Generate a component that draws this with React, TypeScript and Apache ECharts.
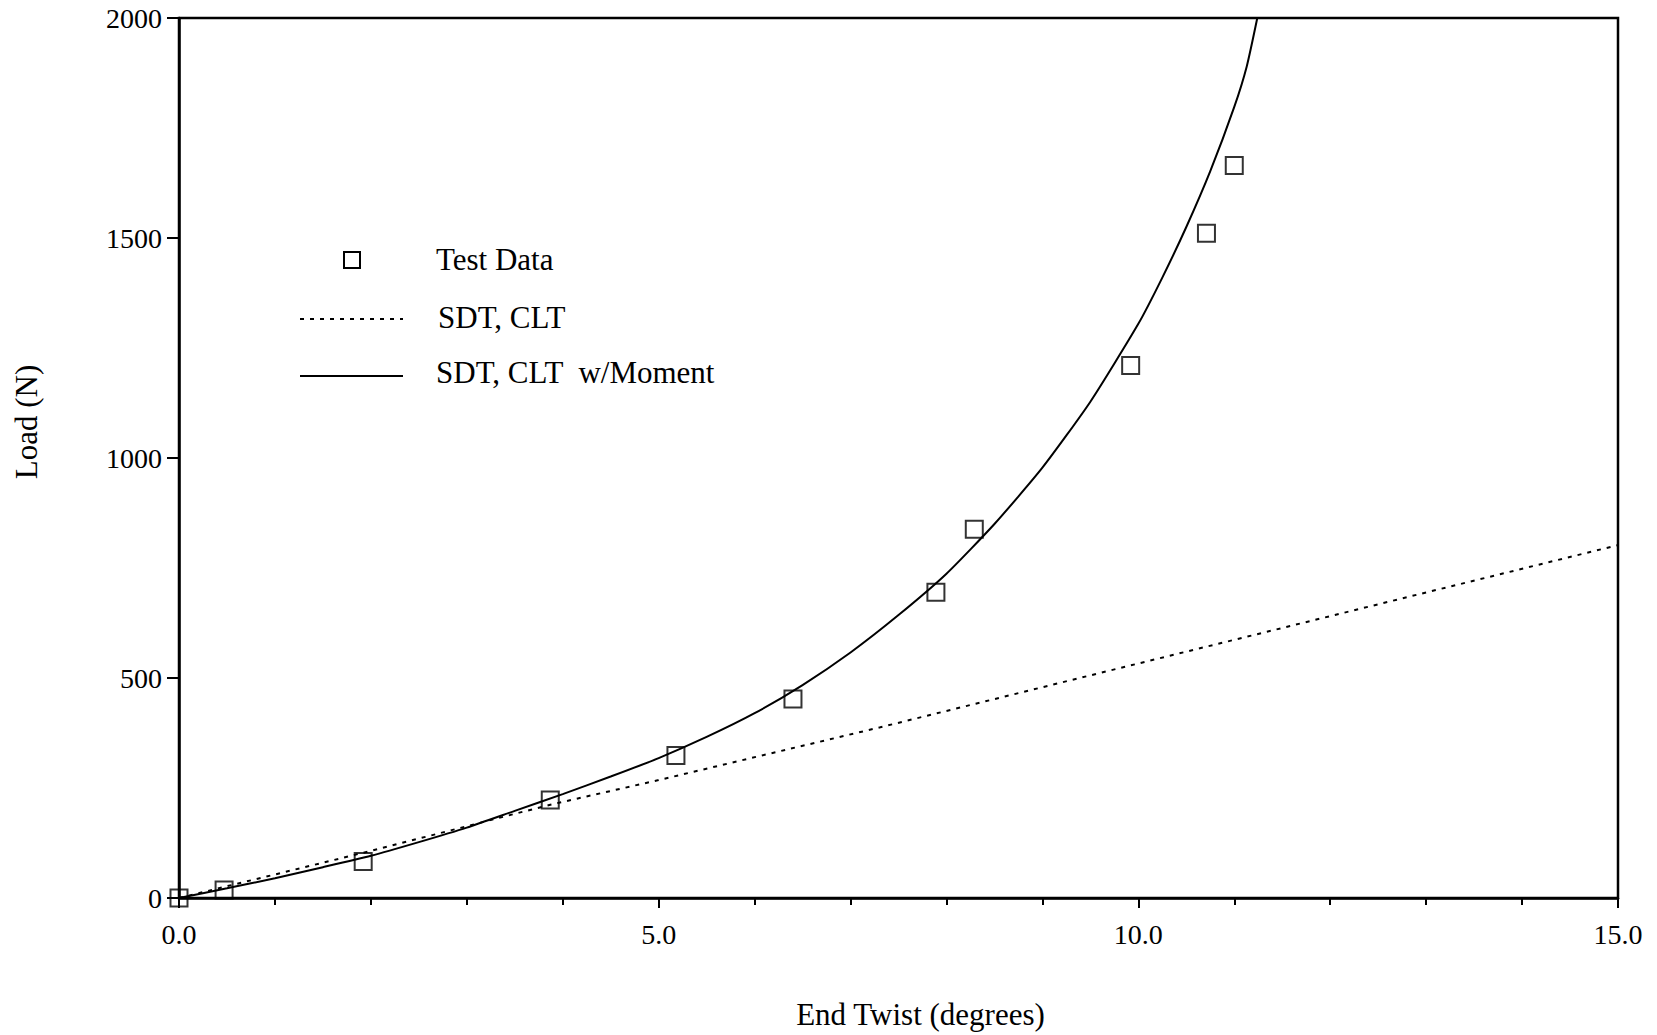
import React, { useEffect, useRef } from "react";
import * as echarts from "echarts";

// Test data (End twist in degrees, Load in N)
const testTwist = [0, 0.47, 1.92, 3.87, 5.18, 6.4, 7.89, 8.29, 9.92, 10.71, 11.0];
const testLoad = [0, 18, 83, 223, 324, 452, 695, 838, 1210, 1511, 1665];

// SDT, CLT (dashed)
const sdtTwist = [0, 2, 3.87, 5, 7.31, 10, 15];
const sdtLoad = [0, 107, 212, 268, 388, 533, 802];

// SDT, CLT w/Moment (solid)
const momTwist = [0, 0.5, 1, 1.5, 2, 2.5, 3, 3.5, 4, 4.5, 5, 5.5, 6, 6.5, 7, 7.5, 8, 8.5, 9, 9.5, 10, 10.25, 10.5, 10.75, 11, 11.13, 11.24];
const momLoad = [0, 22, 45, 70, 96, 127, 160, 198, 236, 276, 318, 366, 420, 484, 558, 643, 737, 850, 978, 1128, 1305, 1410, 1525, 1652, 1798, 1890, 2000];

const xLabels = ["0.0", "5.0", "10.0", "15.0"];
const yTicks = [0, 500, 1000, 1500, 2000];

const FONT = "'Liberation Serif', 'Times New Roman', serif";

export default function App() {
  const ref = useRef<HTMLDivElement>(null);
  useEffect(() => {
    const chart = echarts.init(ref.current!, null, { renderer: "svg" });
    const zip = (xs: number[], ys: number[]) => xs.map((x, i) => [x, ys[i]]);
    chart.setOption({
      animation: false,
      backgroundColor: "#fff",
      textStyle: { fontFamily: FONT, color: "#000" },
      grid: {
        left: 179,
        right: 39,
        top: 18,
        bottom: 137,
        show: true,
        borderColor: "#000",
        borderWidth: 2.5,
        backgroundColor: "transparent",
      },
      xAxis: {
        type: "value",
        min: 0,
        max: 15,
        interval: 5,
        name: "End Twist (degrees)",
        nameLocation: "middle",
        nameGap: 101,
        nameTextStyle: { fontSize: 31, color: "#000", fontFamily: FONT, padding: [0, 0, 0, 44] },
        axisLine: { show: true, onZero: false, lineStyle: { color: "#000", width: 2.5 } },
        axisTick: { show: true, inside: false, length: 10, lineStyle: { color: "#000", width: 2 } },
        minorTick: { show: true, splitNumber: 5, length: 7, lineStyle: { color: "#000", width: 2 } },
        axisLabel: {
          formatter: (v: number) => xLabels[Math.round(v / 5)] ?? v.toFixed(1),
          fontSize: 28,
          color: "#000",
          margin: 22,
          fontFamily: FONT,
        },
        splitLine: { show: false },
      },
      yAxis: {
        type: "value",
        min: yTicks[0],
        max: yTicks[yTicks.length - 1],
        interval: 500,
        name: "Load (N)",
        nameLocation: "middle",
        nameGap: 137,
        nameRotate: 90,
        nameTextStyle: { fontSize: 31, color: "#000", fontFamily: FONT, padding: [0, 0, 0, 72] },
        axisLine: { show: true, onZero: false, lineStyle: { color: "#000", width: 2.5 } },
        axisTick: { show: true, inside: false, length: 12, lineStyle: { color: "#000", width: 2 } },
        axisLabel: {
          fontSize: 28,
          color: "#000",
          margin: 17,
          fontFamily: FONT,
          formatter: (v: number) => String(v),
        },
        splitLine: { show: false },
      },
      series: [
        {
          name: "SDT, CLT",
          type: "line",
          data: zip(sdtTwist, sdtLoad),
          showSymbol: false,
          symbol: "none",
          lineStyle: { color: "#000", width: 2, type: [4, 6] },
          z: 2,
        },
        {
          name: "SDT, CLT  w/Moment",
          type: "line",
          data: zip(momTwist, momLoad),
          showSymbol: false,
          symbol: "none",
          smooth: 0.2,
          lineStyle: { color: "#000", width: 2 },
          z: 2,
        },
        {
          name: "Test Data",
          type: "scatter",
          data: zip(testTwist, testLoad),
          symbol: "rect",
          symbolSize: 17,
          itemStyle: { color: "rgba(0,0,0,0)", borderColor: "#000", borderWidth: 2 },
          z: 3,
        },
      ],
      graphic: [
        {
          type: "rect",
          shape: { x: 344, y: 252, width: 16, height: 16 },
          style: { fill: "none", stroke: "#000", lineWidth: 2 },
        },
        {
          type: "text",
          x: 436,
          y: 259,
          style: { text: "Test Data", font: `31px ${FONT}`, fill: "#000", verticalAlign: "middle" },
        },
        {
          type: "line",
          shape: { x1: 300, y1: 319, x2: 403, y2: 319 },
          style: { stroke: "#000", lineWidth: 2, lineDash: [4, 6] },
        },
        {
          type: "text",
          x: 438,
          y: 317,
          style: { text: "SDT, CLT", font: `31px ${FONT}`, fill: "#000", verticalAlign: "middle" },
        },
        {
          type: "line",
          shape: { x1: 300, y1: 376, x2: 403, y2: 376 },
          style: { stroke: "#000", lineWidth: 2 },
        },
        {
          type: "text",
          x: 436,
          y: 372,
          style: { text: "SDT, CLT  w/Moment", font: `31px ${FONT}`, fill: "#000", verticalAlign: "middle" },
        },
      ],
    });
    return () => chart.dispose();
  }, []);
  return (
    <div
      ref={ref}
      style={{ position: "fixed", left: 0, top: 0, width: 1657, height: 1035, background: "#fff" }}
    />
  );
}
